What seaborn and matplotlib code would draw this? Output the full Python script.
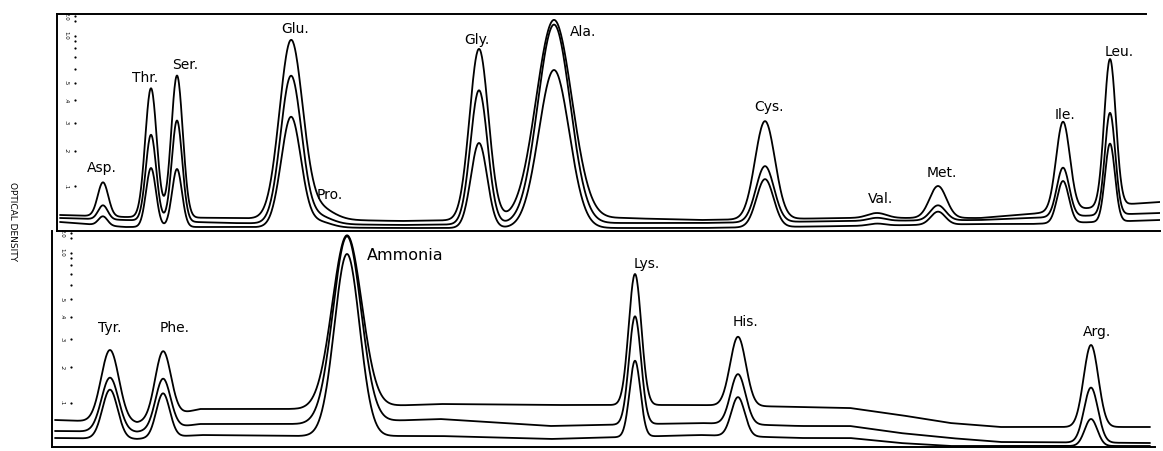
import numpy as np
import pandas as pd
import matplotlib
matplotlib.use("Agg")
import matplotlib.pyplot as plt
import seaborn as sns

# --- amino acid chromatogram, three recorder traces per panel ---
# retention positions (chart x), peak heights above baseline (chart units), peak widths

top_names = ["Asp.", "Thr.", "Ser.", "Glu.", "Pro.", "Gly.", "Ala.",
             "Cys.", "Val.", "Met.", "Ile.", "Leu."]
top_pos = [103, 151, 177, 291, 318, 479, 554, 765, 877, 938, 1063, 1110]
top_width = [5, 5.5, 5.5, 11, 14, 9, 17, 9.5, 9, 8, 6.5, 5.5]
top_amp_1 = [34, 129, 142, 177, 12, 171, 199, 98, 5, 32, 89, 147]
top_amp_2 = [14, 86, 101, 147, 8, 134, 199, 56, 3, 15, 49, 102]
top_amp_3 = [9, 59, 58, 110, 6, 85, 158, 48, 2, 13, 42, 78]

top_base_x = [60, 125, 230, 400, 620, 700, 850, 980, 1030, 1130, 1160]
top_base_1 = [16, 14, 13, 10, 13, 11, 13, 13, 17, 27, 29]
top_base_2 = [13, 11, 8, 6, 8, 8, 10, 11, 13, 17, 18]
top_base_3 = [9, 4, 4, 3, 3, 3, 5, 7, 7, 10, 11]

bot_names = ["Tyr.", "Phe.", "Ammonia", "Lys.", "His.", "Arg."]
bot_pos = [110, 163, 347, 635, 738, 1091]
bot_width = [8.5, 7.5, 14, 6, 7.5, 7]
bot_amp_1 = [72, 66, 172, 131, 69, 82]
bot_amp_2 = [54, 50, 186, 108, 50, 55]
bot_amp_3 = [49, 44, 182, 76, 39, 27]

bot_base_x = [55, 137, 200, 300, 440, 550, 700, 800, 850, 900, 950, 1000, 1150]
bot_base_1 = [27, 24, 38, 38, 43, 42, 42, 40, 39, 32, 24, 20, 20]
bot_base_2 = [16, 15, 23, 23, 28, 21, 24, 21, 21, 14, 9, 5, 4]
bot_base_3 = [9, 8, 12, 11, 11, 8, 12, 9, 9, 4, 1, 1, 1]

od_ticks = [0.1, 0.2, 0.3, 0.4, 0.5, 0.6, 0.7, 0.8, 0.9, 1.0, 1.5, 2.0]
od_tick_labels = [".1", ".2", ".3", ".4", ".5", "", "", "", "", "1.0", "", "2.0"]


def trace_frame(x0, x1, base_x, bases, pos, width, amps, width_scale):
    rows = []
    x = np.arange(x0, x1 + 0.5, 0.5)
    for k, (base, amp) in enumerate(zip(bases, amps)):
        y = np.interp(x, base_x, base)
        for p, w, a in zip(pos, width, amp):
            w = w * width_scale[k]
            y = y + a * np.exp(-0.5 * ((x - p) / w) ** 2)
        rows.append(pd.DataFrame({"x": x, "od": y, "trace": f"t{k+1}"}))
    return pd.concat(rows, ignore_index=True)


def od_scale(ax, height, x_dot, x_txt):
    # recorder paper: linear in transmittance, so OD lines crowd at the top
    for od, lab in zip(od_ticks, od_tick_labels):
        yy = height * (1 - 10 ** (-od))
        ax.plot([x_dot], [yy], marker="o", ms=1.6, color="black", mew=0)
        if lab:
            ax.text(x_txt, yy, lab, fontsize=4, ha="center", va="center",
                    rotation=-90, color="black")


sns.set_style("white")
plt.rcParams["font.family"] = ["DejaVu Sans"]
plt.rcParams["text.color"] = "black"

fig = plt.figure(figsize=(11.63, 4.51), dpi=100)
W, H = 1163, 451

ax_top = fig.add_axes([57 / W, 1 - 231 / H, (1160 - 57) / W, (231 - 14) / H])
ax_bot = fig.add_axes([52 / W, 1 - 447 / H, (1160 - 52) / W, (447 - 231) / H])

top_df = trace_frame(60, 1160, top_base_x, [top_base_1, top_base_2, top_base_3],
                     top_pos, top_width, [top_amp_1, top_amp_2, top_amp_3],
                     [1.05, 0.95, 0.9])
bot_df = trace_frame(55, 1150, bot_base_x, [bot_base_1, bot_base_2, bot_base_3],
                     bot_pos, bot_width, [bot_amp_1, bot_amp_2, bot_amp_3],
                     [1.05, 1.0, 0.9])

for ax, df in [(ax_top, top_df), (ax_bot, bot_df)]:
    sns.lineplot(data=df, x="x", y="od", hue="trace", units="trace",
                 estimator=None, sort=False, palette=["black"] * 3,
                 legend=False, linewidth=1.3, ax=ax)

ax_top.set_xlim(57, 1160)
ax_top.set_ylim(0, 217)
ax_bot.set_xlim(52, 1160)
ax_bot.set_ylim(0, 216)

for ax in (ax_top, ax_bot):
    ax.set_xticks([])
    ax.set_yticks([])
    ax.set_xlabel("")
    ax.set_ylabel("")
    ax.patch.set_alpha(0)
    ax.spines["right"].set_visible(False)
    for s in ax.spines.values():
        s.set_color("black")
        s.set_linewidth(1.4)

ax_top.spines["top"].set_bounds(57, 1146)
ax_bot.spines["top"].set_visible(False)
ax_bot.spines["bottom"].set_bounds(52, 1155)

od_scale(ax_top, 217, 75, 66)
od_scale(ax_bot, 216, 71, 62)

# peak labels (centre positions on the chart)
top_label_xy = [(102, 63), (145, 153), (185, 166), (295, 202), (330, 36),
                (477, 191), (583, 199), (769, 124), (881, 32), (942, 58),
                (1065, 116), (1119, 179)]
for name, (lx, ly) in zip(top_names, top_label_xy):
    ax_top.text(lx, ly, name, fontsize=10, ha="center", va="center",
                color="black")

bot_label_xy = [(110, 119), (175, 119), (367, 192), (647, 183), (745, 125),
                (1097, 115)]
for name, (lx, ly) in zip(bot_names, bot_label_xy):
    if name == "Ammonia":
        ax_bot.text(lx, ly, name, fontsize=11.5, ha="left", va="center",
                    color="black")
    else:
        ax_bot.text(lx, ly, name, fontsize=10, ha="center", va="center",
                    color="black")

fig.text(12 / W, 1 - 222 / H, "OPTICAL DENSITY", rotation=-90, fontsize=6.5,
         ha="center", va="center", color="black")

fig.savefig("out.png", dpi=100)
